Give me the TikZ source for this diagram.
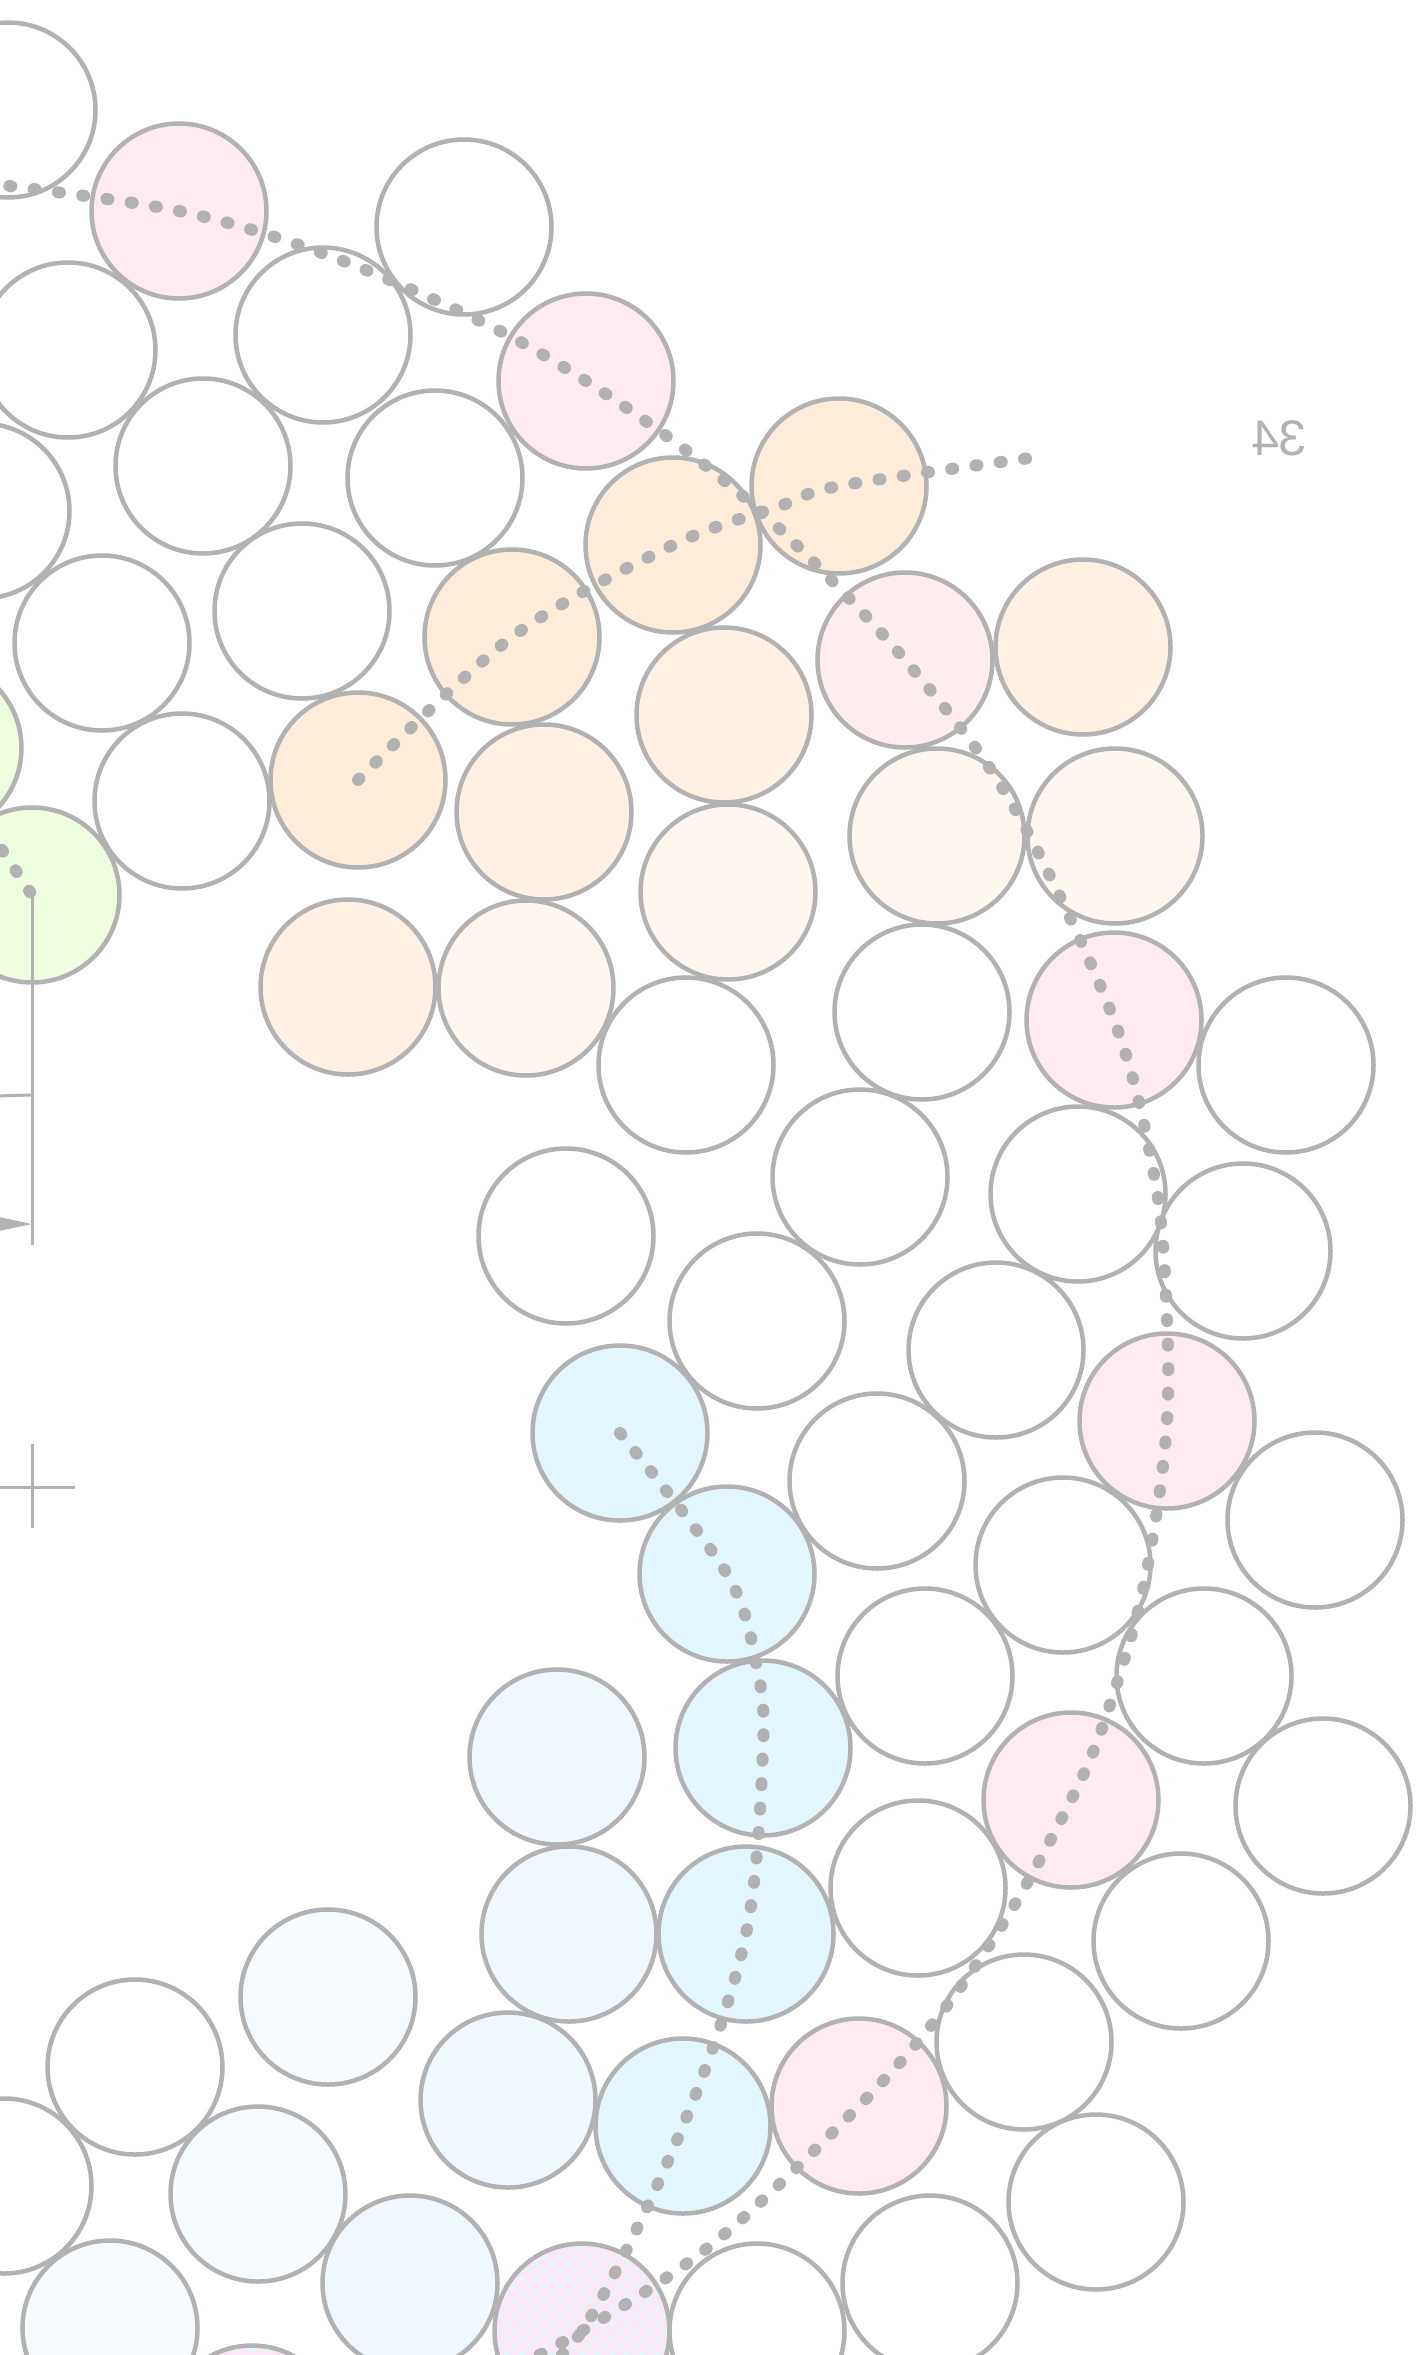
\documentclass[tikz,border=0pt]{standalone}
\usepackage{fontspec}
\setmainfont{Liberation Sans}
\definecolor{gr}{RGB}{178,178,178}
\definecolor{pkc}{RGB}{253,234,243}
\definecolor{orc}{RGB}{254,236,219}
\definecolor{loc}{RGB}{254,241,228}
\definecolor{voc}{RGB}{254,247,240}
\definecolor{gnc}{RGB}{238,252,224}
\definecolor{blc}{RGB}{228,246,253}
\definecolor{vbc}{RGB}{239,248,253}
\definecolor{lbc}{RGB}{245,251,254}
\definecolor{hpk}{RGB}{252,232,244}
\definecolor{hor}{RGB}{254,240,230}
\definecolor{hpk2}{RGB}{253,236,240}
\newcommand\hatchdisk[5]{%
  \begin{scope}
    \clip (#1,#2) circle (87.5pt);
    \fill[#3] (#1,#2) circle (87.5pt);
    \foreach \k in {-14,...,14}{
      \draw[#4, line width=#5] (#1+\k*15-100, #2-100) -- (#1+\k*15+100, #2+100);
      \draw[#4, line width=#5] (#1+\k*15-100, #2+100) -- (#1+\k*15+100, #2-100);
    }
  \end{scope}}
\tikzset{
  ball/.style={circle, draw=gr, line width=4.5pt, minimum size=175pt, inner sep=0pt},
  wh/.style={ball, fill=white},
  pk/.style={ball, fill=pkc},
  or/.style={ball, fill=orc},
  lo/.style={ball, fill=loc},
  vo/.style={ball, fill=voc},
  gn/.style={ball, fill=gnc},
  bl/.style={ball, fill=blc},
  vb/.style={ball, fill=vbc},
  lb/.style={ball, fill=lbc},
  dotline/.style={draw=gr, line width=12pt, line cap=round, dash pattern=on 2pt off 22.5pt},
  thinline/.style={draw=gr, line width=3pt}
}
\begin{document}
\begin{tikzpicture}[x=1pt,y=-1pt]
\useasboundingbox (0,0) rectangle (1416,2355);
\fill[white] (0,0) rectangle (1416,2355);

\node[wh] (c1) at (8,110) {};
\node[pk] (c2) at (179,211) {};
\node[wh] (c3) at (464,227) {};
\node[wh] (c4) at (68,350) {};
\node[wh] (c5) at (323,335) {};
\node[pk] (c6) at (586,381) {};
\node[wh] (c7) at (203,466) {};
\node[wh] (c8) at (-18,511) {};
\node[wh] (c9) at (435,478) {};
\node[or] (c10) at (839,486) {};
\node[or] (c11) at (673,545) {};
\node[wh] (c12) at (102,643) {};
\node[wh] (c13) at (302,611) {};
\node[or] (c14) at (512,637) {};
\hatchdisk{905}{660}{hor}{hpk2}{6pt}
\node[ball] (c15) at (905,660) {};
\node[lo] (c16) at (1083,647) {};
\node[lo] (c17) at (724,715) {};
\node[gn] (c18) at (-66,748) {};
\node[wh] (c19) at (182,801) {};
\node[or] (c20) at (358,780) {};
\node[lo] (c21) at (544,812) {};
\node[vo] (c22) at (937,836) {};
\node[vo] (c23) at (1115,836) {};
\node[gn] (c24) at (32,895) {};
\node[vo] (c25) at (728,892) {};
\node[lo] (c26) at (348,987) {};
\node[vo] (c27) at (526,988) {};
\node[wh] (c28) at (686,1065) {};
\node[wh] (c29) at (922,1012) {};
\node[pk] (c30) at (1114,1020) {};
\node[wh] (c31) at (1286,1065) {};
\node[wh] (c32) at (860,1177) {};
\node[wh] (c33) at (1078,1194) {};
\node[wh] (c34) at (566,1236) {};
\node[wh] (c35) at (1243,1251) {};
\node[wh] (c36) at (757,1321) {};
\node[wh] (c37) at (996,1350) {};
\node[bl] (c38) at (620,1433) {};
\node[pk] (c39) at (1167,1421) {};
\node[wh] (c40) at (877,1481) {};
\node[wh] (c41) at (1315,1520) {};
\node[bl] (c42) at (727,1574) {};
\node[wh] (c43) at (1063,1565) {};
\node[wh] (c44) at (925,1676) {};
\node[wh] (c45) at (1204,1676) {};
\node[vb] (c46) at (557,1757) {};
\node[bl] (c47) at (763,1748) {};
\node[pk] (c48) at (1071,1800) {};
\node[wh] (c49) at (1323,1806) {};
\node[wh] (c50) at (918,1888) {};
\node[vb] (c51) at (569,1934) {};
\node[bl] (c52) at (746,1934) {};
\node[wh] (c53) at (1181,1941) {};
\node[lb] (c54) at (328,1997) {};
\node[wh] (c55) at (135,2067) {};
\node[wh] (c56) at (1024,2042) {};
\node[vb] (c57) at (508,2100) {};
\node[bl] (c58) at (683,2126) {};
\node[pk] (c59) at (859,2106) {};
\node[wh] (c60) at (4,2186) {};
\node[lb] (c61) at (258,2194) {};
\node[wh] (c62) at (1096,2202) {};
\node[vb] (c63) at (410,2283) {};
\node[lb] (c64) at (110,2328) {};
\hatchdisk{582}{2331}{blc}{hpk}{5pt}
\node[ball] (c65) at (582,2331) {};
\node[wh] (c66) at (757,2331) {};
\node[wh] (c67) at (930,2283) {};
\hatchdisk{252}{2433}{blc}{hpk}{5pt}
\node[ball] (c68) at (252,2433) {};

% waypoints
\coordinate (ps) at (-15,183);
\coordinate (p1) at (330,256);
\coordinate (p2) at (484,323);
\coordinate (p3) at (692,455);
\coordinate (p4) at (787,536);
\coordinate (p5) at (1011,802);
\coordinate (p6) at (1156,1186);
\coordinate (p7) at (1167,1321);
\coordinate (p8) at (1156,1517);
\coordinate (p9) at (1137,1615);
\coordinate (p10) at (1101,1731);
\coordinate (p11) at (1012,1909);
\coordinate (p12) at (942,2012);
\coordinate (p13) at (715,2242);
\coordinate (pe) at (480,2385);
\coordinate (b1) at (757,1668);
\coordinate (be) at (500,2400);
\coordinate (o1) at (780,506);
\coordinate (oe) at (1030,458);
\coordinate (vend) at (32,1245);
\coordinate (tickl) at (-5,1096);
\coordinate (tickr) at (32,1095);
\coordinate (arr) at (32,1224);

\draw[dotline] plot[smooth, tension=0.55] coordinates {(ps) (c2.center) (p1) (p2) (c6.center) (p3) (p4) (c15.center) (p5) (c30.center) (p6) (p7) (c39.center) (p8) (p9) (p10) (c48.center) (p11) (p12) (c59.center) (p13) (c65.center) (pe)};
\draw[dotline] plot[smooth, tension=0.55] coordinates {(c38.center) (c42.center) (b1) (c47.center) (c52.center) (c58.center) (c65.center) (be)};
\draw[dotline] plot[smooth, tension=0.55] coordinates {(c20.center) (c14.center) (c11.center) (o1) (c10.center) (oe)};
\draw[dotline] (c18.center) -- (c24.center);

\draw[thinline] (c24.center) -- (vend);
\draw[thinline] (tickl) -- (tickr);
\fill[gr] (arr) -- (-30,1211) -- (-30,1237) -- cycle;
\coordinate (crt) at (32,1444);
\coordinate (crb) at (32,1528);
\coordinate (crl) at (-5,1487);
\coordinate (crr) at (75,1487);
\draw[thinline] (crt) -- (crb);
\draw[thinline] (crl) -- (crr);

\node[text=gr, font=\fontsize{50}{50}\selectfont, xscale=-1, inner sep=0pt] (lab) at (1279,438) {34};
\end{tikzpicture}
\end{document}
